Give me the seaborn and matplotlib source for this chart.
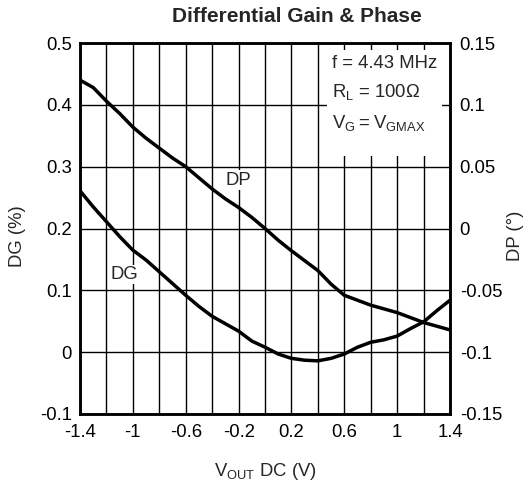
import numpy as np
import matplotlib
matplotlib.use("Agg")
import matplotlib.pyplot as plt
import seaborn as sns
from matplotlib.patches import Rectangle

# Output DC voltage (V)
vout = [-1.4, -1.3, -1.2, -1.1, -1.0, -0.9, -0.8, -0.7, -0.6, -0.5, -0.4, -0.3, -0.2, -0.1,
        0.0, 0.1, 0.2, 0.3, 0.4, 0.5, 0.6, 0.7, 0.8, 0.9, 1.0, 1.1, 1.2, 1.3, 1.4]
# Differential gain (%), left axis
dg = [0.261, 0.235, 0.211, 0.187, 0.165, 0.149, 0.130, 0.111, 0.092, 0.074, 0.058, 0.046,
      0.034, 0.018, 0.008, -0.003, -0.010, -0.013, -0.014, -0.010, -0.003, 0.008, 0.016,
      0.020, 0.026, 0.038, 0.049, 0.067, 0.084]
# Differential phase (deg), right axis
dp = [0.120, 0.114, 0.103, 0.093, 0.082, 0.073, 0.065, 0.057, 0.050, 0.041, 0.032, 0.024,
      0.017, 0.009, 0.000, -0.0095, -0.018, -0.026, -0.034, -0.045, -0.054, -0.058, -0.062,
      -0.065, -0.068, -0.072, -0.076, -0.079, -0.082]

x_major = [-1.4, -1.0, -0.6, -0.2, 0.2, 0.6, 1.0, 1.4]
x_labels = ['-1.4', '-1', '-0.6', '-0.2', '0.2', '0.6', '1', '1.4']
x_minor = [-1.2, -0.8, -0.4, 0.0, 0.4, 0.8, 1.2]
dg_ticks = [-0.1, 0.0, 0.1, 0.2, 0.3, 0.4, 0.5]
dg_labels = ['-0.1', '0', '0.1', '0.2', '0.3', '0.4', '0.5']
dp_ticks = [-0.15, -0.1, -0.05, 0.0, 0.05, 0.1, 0.15]
dp_labels = ['-0.15', '-0.1', '-0.05', '0', '0.05', '0.1', '0.15']

sns.set_style("white")
plt.rcParams['font.family'] = ['Liberation Sans', 'DejaVu Sans']
plt.rcParams['mathtext.fontset'] = 'custom'
plt.rcParams['mathtext.rm'] = 'Liberation Sans'

FS = 13.3
W, H = 531, 487
fig = plt.figure(figsize=(W / 100, H / 100), dpi=100)
ax = fig.add_axes([80 / W, 1 - 414 / H, 370 / W, 371 / H])

sns.lineplot(x=vout, y=dg, ax=ax, color='black', linewidth=2.5, zorder=3)
ax.set_xlim(-1.4, 1.4)
ax.set_ylim(-0.1, 0.5)
ax.set_xticks(x_major)
ax.set_xticklabels(x_labels)
ax.set_xticks(x_minor, minor=True)
ax.set_yticks(dg_ticks)
ax.set_yticklabels(dg_labels)
ax.grid(True, which='both', color='black', linewidth=1.0)
ax.tick_params(which='both', length=0, labelsize=FS, colors='black')
ax.tick_params(axis='x', pad=7)
ax.tick_params(axis='y', pad=6)
ax.set_xlabel(r'$\mathregular{V_{OUT}}$ DC (V)', fontsize=FS, va='center')
ax.xaxis.set_label_coords(0.5, -0.155)
ax.set_ylabel('DG (%)', fontsize=FS, va='center')
ax.yaxis.set_label_coords(-0.169, 0.48)
for s in ax.spines.values():
    s.set_color('black')
    s.set_linewidth(1.8)

# white box behind the condition text
ax.add_patch(Rectangle((0.668, 0.695), 0.310, 0.286, transform=ax.transAxes,
                       facecolor='white', edgecolor='none', zorder=1.5))
ax.text(0.680, 0.946, 'f = 4.43 MHz', transform=ax.transAxes, fontsize=FS,
        va='center', ha='left', zorder=4)
ax.text(0.680, 0.868, r'$\mathregular{R_L}$ = 100Ω', transform=ax.transAxes,
        fontsize=FS, va='center', ha='left', zorder=4)
ax.text(0.680, 0.784, r'$\mathregular{V_G = V_{GMAX}}$', transform=ax.transAxes,
        fontsize=FS, va='center', ha='left', zorder=4)

tight = dict(facecolor='white', edgecolor='none', pad=1.0)
ax.text(-1.067, 0.1256, 'DG', fontsize=FS, ha='center', va='center',
        bbox=tight, zorder=4)

ax2 = ax.twinx()
sns.lineplot(x=vout, y=dp, ax=ax2, color='black', linewidth=2.5)
ax2.set_ylim(-0.15, 0.15)
ax2.set_yticks(dp_ticks)
ax2.set_yticklabels(dp_labels)
ax2.tick_params(length=0, labelsize=FS, colors='black', pad=7)
ax2.set_ylabel('DP (°)', fontsize=FS, va='center')
ax2.yaxis.set_label_coords(1.176, 0.48)
ax2.text(-0.205, 0.039, 'DP', fontsize=FS, ha='center', va='center', bbox=tight)
for s in ax2.spines.values():
    s.set_color('black')
    s.set_linewidth(1.8)

fig.text(297 / W, 1 - 17 / H, 'Differential Gain & Phase', fontsize=15,
         fontweight='bold', ha='center', va='center')

fig.savefig('out.png', dpi=100, facecolor='white')
